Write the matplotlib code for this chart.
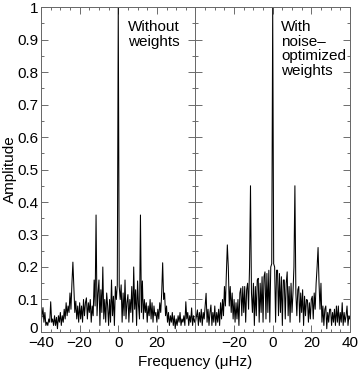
import numpy as np
import matplotlib
matplotlib.use('Agg')
import matplotlib.pyplot as plt
import matplotlib.transforms as mtransforms
from matplotlib.ticker import MultipleLocator, FuncFormatter

plt.rcParams['font.family'] = ['Liberation Sans', 'DejaVu Sans']
plt.rcParams['font.size'] = 11

# frequency grid (muHz), 0.5 muHz sampling
freq = np.linspace(-40, 40, 161)

# spectral window, no weights
amp_noweights = [
    0.03, 0.05, 0.075, 0.03, 0.06, 0.02, 0.03, 0.02, 0.04, 0.03,
    0.093, 0.03, 0.04, 0.02, 0.05, 0.02, 0.045, 0.01, 0.05, 0.03,
    0.06, 0.02, 0.05, 0.03, 0.07, 0.04, 0.09, 0.05, 0.08, 0.06,
    0.12, 0.07, 0.15, 0.215, 0.14, 0.06, 0.095, 0.04, 0.08, 0.03,
    0.09, 0.04, 0.08, 0.03, 0.10, 0.05, 0.09, 0.105, 0.04, 0.09,
    0.06, 0.10, 0.03, 0.08, 0.05, 0.16, 0.08, 0.36, 0.05, 0.12,
    0.16, 0.02, 0.13, 0.06, 0.20, 0.04, 0.10, 0.03, 0.12, 0.08,
    0.02, 0.10, 0.03, 0.16, 0.05, 0.11, 0.02, 0.14, 0.10, 0.145,
    1.0,
    0.14, 0.10, 0.145, 0.03, 0.12, 0.05, 0.16, 0.04, 0.09, 0.115,
    0.03, 0.10, 0.06, 0.14, 0.03, 0.20, 0.07, 0.13, 0.02, 0.157,
    0.08, 0.04, 0.36, 0.06, 0.157, 0.04, 0.10, 0.06, 0.09, 0.03,
    0.08, 0.05, 0.10, 0.04, 0.09, 0.03, 0.08, 0.05, 0.06, 0.03,
    0.07, 0.04, 0.09, 0.06, 0.12, 0.213, 0.10, 0.12, 0.05, 0.08,
    0.03, 0.06, 0.02, 0.05, 0.03, 0.06, 0.02, 0.05, 0.01, 0.04,
    0.02, 0.05, 0.03, 0.06, 0.02, 0.04, 0.03, 0.05, 0.02, 0.093,
    0.04, 0.06, 0.02, 0.05, 0.03, 0.074, 0.02, 0.05, 0.03, 0.04,
]

# spectral window, noise-optimized weights
amp_weights = [
    0.03, 0.05, 0.068, 0.02, 0.06, 0.03, 0.07, 0.02, 0.06, 0.04,
    0.08, 0.119, 0.03, 0.07, 0.02, 0.06, 0.083, 0.02, 0.06, 0.03,
    0.08, 0.02, 0.06, 0.03, 0.07, 0.02, 0.09, 0.04, 0.10, 0.05,
    0.14, 0.08, 0.18, 0.268, 0.20, 0.08, 0.14, 0.06, 0.12, 0.04,
    0.10, 0.03, 0.09, 0.04, 0.10, 0.02, 0.12, 0.135, 0.05, 0.14,
    0.06, 0.14, 0.03, 0.13, 0.15, 0.07, 0.20, 0.45, 0.12, 0.06,
    0.15, 0.02, 0.14, 0.05, 0.16, 0.165, 0.03, 0.15, 0.06, 0.17,
    0.03, 0.17, 0.185, 0.04, 0.18, 0.06, 0.19, 0.03, 0.20, 0.21,
    1.0,
    0.21, 0.20, 0.03, 0.19, 0.19, 0.05, 0.18, 0.06, 0.17, 0.02,
    0.16, 0.16, 0.04, 0.15, 0.185, 0.05, 0.14, 0.03, 0.15, 0.06,
    0.12, 0.20, 0.45, 0.12, 0.05, 0.13, 0.14, 0.03, 0.12, 0.06,
    0.13, 0.02, 0.11, 0.05, 0.10, 0.098, 0.03, 0.09, 0.04, 0.10,
    0.11, 0.04, 0.12, 0.07, 0.15, 0.20, 0.26, 0.15, 0.07, 0.15,
    0.03, 0.08, 0.02, 0.07, 0.08, 0.01, 0.06, 0.03, 0.07, 0.07,
    0.02, 0.06, 0.03, 0.07, 0.02, 0.08, 0.03, 0.08, 0.02, 0.06,
    0.03, 0.09, 0.02, 0.06, 0.03, 0.05, 0.08, 0.02, 0.05, 0.04,
]

left_ticks = [-40, -20, 0, 20]
right_ticks = [-20, 0, 20, 40]


def fmt_y(v, pos):
    if abs(v) < 1e-9:
        return '0'
    if abs(v - 1) < 1e-9:
        return '1'
    return f'{v:.1f}'


fig = plt.figure(figsize=(3.6, 3.73), dpi=100)
w = 0.429
ax1 = fig.add_axes([0.114, 0.110, w, 0.871])
ax2 = fig.add_axes([0.114 + w, 0.110, w, 0.871], sharey=ax1)

for ax, amp, ticks in [(ax1, amp_noweights, left_ticks), (ax2, amp_weights, right_ticks)]:
    ax.plot(freq, amp, color='black', lw=0.75)
    ax.set_xlim(-40, 40)
    ax.set_ylim(0, 1)
    ax.set_xticks(ticks)
    ax.set_xticklabels([f'\u2212{abs(t)}' if t < 0 else str(t) for t in ticks])
    ax.xaxis.set_minor_locator(MultipleLocator(5))
    ax.yaxis.set_major_locator(MultipleLocator(0.1))
    ax.yaxis.set_minor_locator(MultipleLocator(0.05))
    ax.tick_params(which='both', direction='in', top=True, right=True, width=0.6, colors='#555555',
                   labelcolor='black', labelsize=11, pad=2)
    ax.tick_params(which='major', length=5)
    ax.tick_params(which='minor', length=2.5)
    ax.tick_params(axis='x', pad=3)
    for s in ax.spines.values():
        s.set_color('#666666')
        s.set_linewidth(0.7)

ax1.yaxis.set_major_formatter(FuncFormatter(fmt_y))
ax2.tick_params(labelleft=False)
ax1.set_ylabel('Amplitude', fontsize=11, labelpad=0)

# lift the "0" y label a little so it clears the "-40" x label
fig.canvas.draw()
lift = mtransforms.ScaledTranslation(0, 3 / 72, fig.dpi_scale_trans)
for lab in ax1.get_yticklabels():
    if lab.get_text() == '0':
        lab.set_transform(lab.get_transform() + lift)

ax1.text(0.565, 0.96, 'Without\nweights', transform=ax1.transAxes, ha='left', va='top',
         fontsize=11, linespacing=1.05)
ax2.text(0.555, 0.96, 'With\nnoise\u2013\noptimized\nweights', transform=ax2.transAxes,
         ha='left', va='top', fontsize=11, linespacing=1.05)

fig.text(0.542, 0.012, 'Frequency (\u03bcHz)', ha='center', va='bottom', fontsize=11)

fig.savefig('out.png', dpi=100)
